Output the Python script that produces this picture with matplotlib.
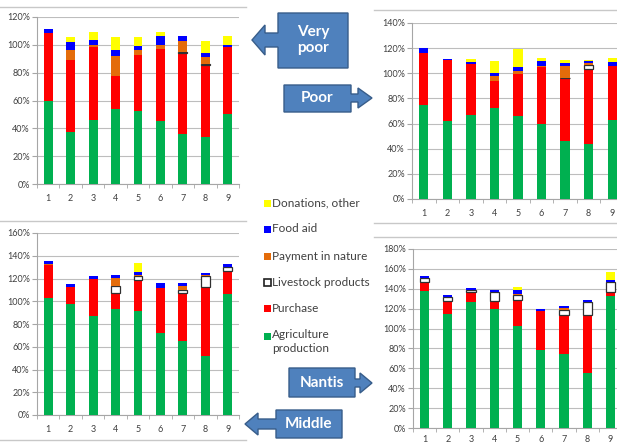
import numpy as np
import matplotlib
matplotlib.use("Agg")
import matplotlib.pyplot as plt
from matplotlib.patches import Polygon, Rectangle
from matplotlib.lines import Line2D
from matplotlib.ticker import MultipleLocator, PercentFormatter

plt.rcParams['font.family'] = ['Lato', 'DejaVu Sans']

W, H = 617, 445

categories = ['1', '2', '3', '4', '5', '6', '7', '8', '9']
series_labels = ['Agriculture\nproduction', 'Purchase', 'Livestock products',
                 'Payment in nature', 'Food aid', 'Donations, other']
series_colors = ['#00B050', '#FF0000', '#FFFFFF', '#E46C0A', '#0000FF', '#FFFF00']

# Food source shares (% of needs) by wealth group
vp_agriculture = [60.0, 37.4, 46.0, 54.2, 52.3, 45.6, 36.0, 34.0, 50.4]
vp_purchase = [48.5, 51.9, 52.2, 23.1, 40.3, 51.4, 58.4, 51.5, 47.8]
vp_livestock = [0, 0, 0, 0, 0, 0, 0.6, 0.5, 0]
vp_payment = [0, 6.7, 1.6, 14.9, 3.6, 3.0, 7.7, 5.5, 0]
vp_food_aid = [2.8, 5.7, 3.4, 4.3, 3.2, 6.6, 3.9, 2.5, 1.4]
vp_donations = [0, 3.6, 5.8, 9.1, 6.2, 2.4, 0, 9.0, 7.0]

po_agriculture = [74.7, 62.0, 66.8, 72.6, 65.8, 60.0, 46.0, 43.6, 62.9]
po_purchase = [41.8, 48.5, 40.7, 21.2, 33.5, 44.7, 49.9, 60.1, 43.1]
po_livestock = [0, 0, 0, 0, 0, 0, 0.4, 2.7, 0]
po_payment = [0, 0, 0, 3.7, 2.7, 1.1, 9.2, 1.4, 0]
po_food_aid = [3.3, 1.0, 1.7, 2.8, 2.8, 4.0, 3.0, 2.0, 3.2]
po_donations = [0, 0, 2.3, 9.7, 14.2, 2.2, 2.3, 0.7, 2.6]

mi_agriculture = [103.2, 98.0, 86.9, 93.0, 91.5, 72.0, 65.2, 52.0, 106.3]
mi_purchase = [28.3, 14.8, 32.8, 14.0, 27.3, 40.0, 42.3, 60.8, 20.2]
mi_livestock = [0, 0, 0, 6.0, 3.0, 0, 2.5, 9.2, 3.7]
mi_payment = [1.0, 0, 0, 7.3, 1.2, 0, 3.0, 1.0, 0]
mi_food_aid = [3.0, 2.7, 2.1, 2.5, 2.8, 4.3, 2.8, 1.5, 2.5]
mi_donations = [0, 0, 0, 0, 8.0, 0, 0, 0, 0]

na_agriculture = [138.0, 114.3, 127.0, 119.3, 102.8, 78.7, 74.3, 55.7, 132.5]
na_purchase = [8.7, 13.2, 9.8, 8.7, 25.7, 38.6, 39.7, 57.8, 4.3]
na_livestock = [4.0, 4.2, 2.2, 8.3, 5.0, 0, 4.3, 13.7, 9.9]
na_payment = [0, 0, 0, 0, 1.5, 0, 2.0, 0, 0]
na_food_aid = [2.3, 2.3, 1.7, 2.9, 3.3, 2.7, 2.7, 1.3, 2.1]
na_donations = [0, 0, 0, 0, 3.2, 0, 0, 0, 7.7]

fig = plt.figure(figsize=(W / 100, H / 100), dpi=100)
fig.patch.set_facecolor('white')


def fx(x):
    return x / W


def fy(y):
    return 1 - y / H


def axes_px(x0, y0, x1, y1):
    return fig.add_axes([fx(x0), fy(y1), (x1 - x0) / W, (y1 - y0) / H])


def stacked_panel(ax, series, ymax, xpad=7.5):
    x = np.arange(1, len(categories) + 1)
    bottom = np.zeros(len(categories))
    for vals, color in zip(series, series_colors):
        vals = np.asarray(vals, dtype=float)
        if color == '#FFFFFF':
            edges = ['#303030' if v > 0 else 'none' for v in vals]
            ax.bar(x, vals, 0.4, bottom=bottom, color=color,
                   edgecolor=edges, linewidth=0.9, zorder=3)
        else:
            ax.bar(x, vals, 0.4, bottom=bottom, color=color,
                   linewidth=0, zorder=3)
        bottom += vals
    ax.set_xlim(0.5, len(categories) + 0.5)
    ax.set_ylim(0, ymax)
    ax.yaxis.set_major_locator(MultipleLocator(20))
    ax.yaxis.set_major_formatter(PercentFormatter(xmax=100, decimals=0))
    ax.yaxis.grid(True, color='#BDBDBD', linewidth=0.8)
    ax.set_axisbelow(True)
    for side in ('top', 'right'):
        ax.spines[side].set_visible(False)
    for side in ('left', 'bottom'):
        ax.spines[side].set_color('#A6A6A6')
        ax.spines[side].set_linewidth(0.8)
    ax.set_xticks(x)
    ax.set_xticklabels(categories)
    ax.set_xticks(np.arange(0.5, len(categories) + 1, 1.0), minor=True)
    ax.tick_params(axis='x', which='major', length=0, labelsize=6.5,
                   labelcolor='#404040', pad=xpad)
    ax.tick_params(axis='x', which='minor', length=3, color='#A6A6A6',
                   direction='out')
    ax.tick_params(axis='y', length=3.5, color='#A6A6A6', labelsize=6.5,
                   labelcolor='#404040', pad=1.5)
    ax.set_facecolor('white')


ax_vp = axes_px(37, 17, 239, 184)
stacked_panel(ax_vp, [vp_agriculture, vp_purchase, vp_livestock, vp_payment,
                      vp_food_aid, vp_donations], 120)

ax_po = axes_px(412, 23, 624, 199)
stacked_panel(ax_po, [po_agriculture, po_purchase, po_livestock, po_payment,
                      po_food_aid, po_donations], 140)

ax_mi = axes_px(37, 233, 239, 415)
stacked_panel(ax_mi, [mi_agriculture, mi_purchase, mi_livestock, mi_payment,
                      mi_food_aid, mi_donations], 160)

ax_na = axes_px(413, 249, 622, 428)
stacked_panel(ax_na, [na_agriculture, na_purchase, na_livestock, na_payment,
                      na_food_aid, na_donations], 180, xpad=5.0)

# chart-area borders
border = dict(color='#C8C8C8', linewidth=1.0, transform=fig.transFigure)
for (x0, x1, y) in [(0, 246, 7), (0, 246, 221), (0, 246, 440),
                    (374, 617, 10), (374, 617, 223), (374, 617, 237)]:
    fig.add_artist(Line2D([fx(x0), fx(x1)], [fy(y), fy(y)], **border))

# legend
legend_y = [336, 308, 282, 256, 229, 203]
for label, color, yc in zip(series_labels, series_colors, legend_y):
    ec = '#202020' if color == '#FFFFFF' else 'none'
    lw = 1.2 if color == '#FFFFFF' else 0
    fig.add_artist(Rectangle((fx(263.5), fy(yc + 3.5)), 7 / W, 7 / H,
                             facecolor=color, edgecolor=ec, linewidth=lw,
                             transform=fig.transFigure))
    if '\n' in label:
        fig.text(fx(272), fy(yc - 7.5), label, ha='left', va='top',
                 fontsize=8.5, color='#404040', linespacing=1.35)
    else:
        fig.text(fx(272), fy(yc), label, ha='left', va='center',
                 fontsize=8.5, color='#404040')

# arrow callouts naming each wealth group
fill, edge = '#4F81BD', '#385D8A'


def callout(points, text, cx, cy):
    pts = [(fx(px), fy(py)) for px, py in points]
    fig.add_artist(Polygon(pts, closed=True, facecolor=fill, edgecolor=edge,
                           linewidth=1.0, transform=fig.transFigure))
    fig.text(fx(cx), fy(cy), text, ha='center', va='center', color='white',
             fontsize=11, fontweight='bold', linespacing=1.1)


callout([(348, 13), (348, 68), (278, 68), (278, 47), (265, 47), (265, 55),
         (252, 40), (265, 25), (265, 33), (278, 33), (278, 13)],
        'Very\npoor', 313, 40)
callout([(284, 85), (351, 85), (351, 94), (358, 94), (358, 88), (372, 98),
         (358, 108), (358, 102), (351, 102), (351, 112), (284, 112)],
        'Poor', 317, 98.5)
callout([(289, 368), (355, 368), (355, 379), (360, 379), (360, 373),
         (372, 383), (360, 393), (360, 387), (355, 387), (355, 397),
         (289, 397)],
        'Nantis', 322, 383)
callout([(342, 410), (342, 438), (276, 438), (276, 429), (258, 429),
         (258, 435), (245, 424), (258, 413), (258, 419), (276, 419),
         (276, 410)],
        'Middle', 309, 424)

fig.savefig('out.png', dpi=100)
